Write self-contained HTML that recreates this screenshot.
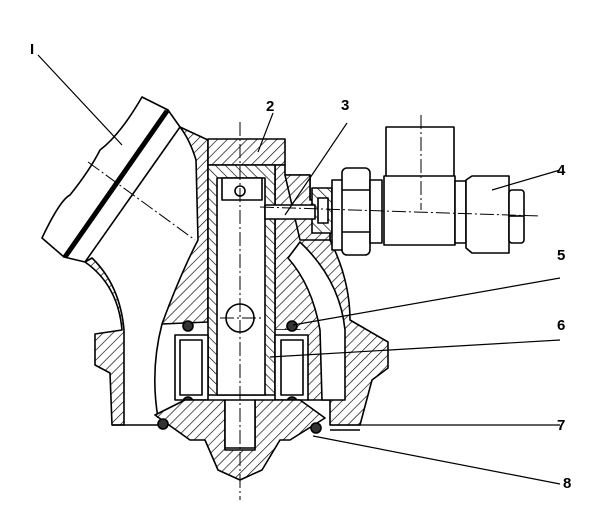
<!DOCTYPE html>
<html><head><style>html,body{margin:0;padding:0;background:#fff}svg{display:block}</style></head>
<body>
<svg width="600" height="520" viewBox="0 0 600 520" xmlns="http://www.w3.org/2000/svg" font-family="Liberation Sans, sans-serif">
<defs>
<pattern id="h" width="7" height="7" patternUnits="userSpaceOnUse" patternTransform="rotate(45)">
<rect width="7" height="7" fill="#fff"/><line x1="0" y1="0" x2="0" y2="7" stroke="#000" stroke-width="1.3"/>
</pattern>
<pattern id="h2" width="7" height="7" patternUnits="userSpaceOnUse" patternTransform="rotate(-45)">
<rect width="7" height="7" fill="#fff"/><line x1="0" y1="0" x2="0" y2="7" stroke="#000" stroke-width="1.3"/>
</pattern>
</defs>
<g stroke="#000" stroke-width="1.6" fill="none" stroke-linejoin="round">
<!-- left inlet flange -->
<path d="M142,97 L168,110 L64,257 L42,238 Q60,200 70,195 Q90,170 100,150 Q120,135 142,97 Z" fill="#fff"/>
<path d="M168,110 L180,127 L85,262 L64,257 Z" fill="#fff"/>
<line x1="167" y1="111" x2="65" y2="257" stroke-width="5"/>
<!-- left pipe wall -->
<path d="M85,262 Q118,285 122,330 L95,334 L95,365 L110,373 L112,425 L124,425 L124,330 Q120,285 92,258 Z" fill="url(#h)"/>
<line x1="112" y1="425" x2="160" y2="425"/>
<!-- left body wall -->
<path d="M180,127 L208,140 L208,322 L162,324 Q180,275 198,240 L196,160 Q190,140 180,127 Z" fill="url(#h)"/>
<path d="M162,324 Q150,370 158,418"/>
<!-- top block -->
<rect x="208" y="139" width="77" height="26" fill="url(#h)"/>
<!-- right body -->
<path d="M275,165 L285,165 L285,175 L310,175 L310,200 L330,200 L330,240 Q350,280 350,320 L388,342 L388,368 L372,380 L360,425 L330,425 L330,400 L308,400 L300,330 L275,330 Z" fill="url(#h)"/>
<!-- curved passage -->
<path d="M300,242 Q340,280 345,330 L345,400 L322,400 L320,330 Q312,285 288,258 Z" fill="#fff"/>
<rect x="275" y="330" width="33" height="70" fill="#fff" stroke="none"/>
<!-- bore and pin -->
<rect x="208" y="165" width="67" height="230" fill="url(#h2)"/>
<rect x="217" y="178" width="48" height="217" fill="#fff"/>
<rect x="222" y="178" width="40" height="22" fill="#fff"/>
<circle cx="240" cy="318" r="14" fill="#fff"/>
<circle cx="240" cy="191" r="5"/>
<!-- bearings -->
<rect x="175" y="335" width="33" height="65" fill="#fff"/>
<rect x="275" y="335" width="33" height="65" fill="#fff"/>
<rect x="180" y="340" width="22" height="55"/>
<rect x="281" y="340" width="22" height="55"/>
<circle cx="188" cy="326" r="5" fill="#333"/><circle cx="292" cy="326" r="5" fill="#333"/>
<circle cx="188" cy="402" r="5" fill="#333"/><circle cx="292" cy="402" r="5" fill="#333"/>
<!-- bottom cone -->
<path d="M155,415 L185,400 L225,400 L225,450 L255,450 L255,400 L300,400 L325,418 L290,440 L280,440 L262,470 L240,480 L218,470 L205,440 L190,440 Z" fill="url(#h)"/>
<rect x="225" y="400" width="30" height="48" fill="#fff"/>
<circle cx="163" cy="424" r="5" fill="#333"/><circle cx="316" cy="428" r="5" fill="#333"/>
<line x1="330" y1="430" x2="360" y2="430"/>
<!-- fitting -->
<path d="M285,175 L310,175 L310,200 L330,200 L330,240 L300,240 Z" fill="url(#h)"/>
<rect x="312" y="188" width="20" height="45" fill="url(#h2)"/>
<rect x="318" y="198" width="10" height="25" fill="#fff"/>
<rect x="265" y="205" width="50" height="14" fill="#fff"/>
<rect x="332" y="180" width="12" height="70" fill="#fff"/>
<rect x="342" y="168" width="28" height="87" rx="5" fill="#fff"/>
<line x1="342" y1="190" x2="370" y2="190"/><line x1="342" y1="232" x2="370" y2="232"/>
<rect x="370" y="180" width="12" height="63" fill="#fff"/>
<rect x="386" y="127" width="68" height="50" fill="#fff"/>
<rect x="384" y="176" width="71" height="69" fill="#fff"/>
<rect x="455" y="181" width="11" height="62" fill="#fff"/>
<path d="M466,180 L472,176 L509,176 L509,253 L472,253 L466,248 Z" fill="#fff"/>
<rect x="509" y="190" width="15" height="53" rx="3" fill="#fff"/>
<line x1="509" y1="216" x2="524" y2="216"/>
</g>
<!-- center lines -->
<g stroke="#000" stroke-width="1" stroke-dasharray="14,3,2,3" fill="none">
<line x1="240" y1="122" x2="240" y2="500"/>
<line x1="260" y1="207" x2="540" y2="216"/>
<line x1="421" y1="115" x2="421" y2="210"/>
<line x1="88" y1="162" x2="195" y2="240"/>
<line x1="220" y1="318" x2="262" y2="318"/>
</g>
<!-- leaders -->
<g stroke="#000" stroke-width="1.2">
<line x1="38" y1="55" x2="122" y2="145"/>
<line x1="273" y1="113" x2="258" y2="152"/>
<line x1="347" y1="123" x2="285" y2="215"/>
<line x1="560" y1="170" x2="492" y2="190"/>
<line x1="560" y1="278" x2="293" y2="325"/>
<line x1="560" y1="340" x2="270" y2="357"/>
<line x1="560" y1="425" x2="330" y2="425"/>
<line x1="560" y1="484" x2="313" y2="436"/>
</g>
<g font-size="15" font-weight="bold" fill="#000">
<text x="30" y="54">I</text>
<text x="266" y="111">2</text>
<text x="341" y="110">3</text>
<text x="557" y="175">4</text>
<text x="557" y="260">5</text>
<text x="557" y="330">6</text>
<text x="557" y="430">7</text>
<text x="563" y="488">8</text>
</g>
</svg>
</body></html>
